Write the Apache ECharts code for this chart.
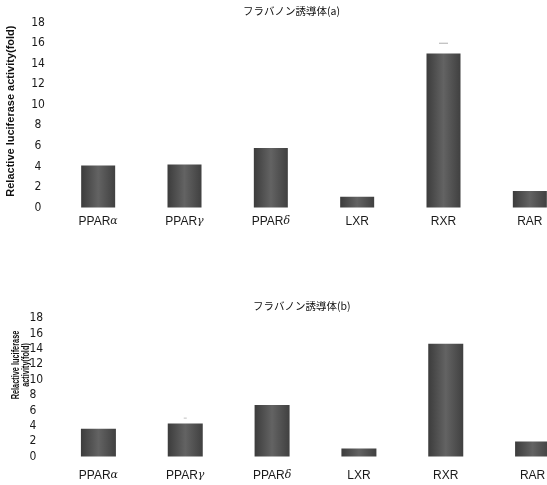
<!DOCTYPE html>
<html>
<head>
<meta charset="utf-8">
<script src="https://cdn.jsdelivr.net/npm/echarts@6/dist/echarts.min.js"></script>
<style>
  html, body { margin: 0; padding: 0; background: #fff; }
  #chart { width: 547px; height: 485px; }
</style>
</head>
<body>
<div id="chart"></div>
<script>
// Receptor categories (Greek suffix drawn in italic)
const receptors = ['PPARα', 'PPARγ', 'PPARδ', 'LXR', 'RXR', 'RAR'];

// Fold activation for each flavanone derivative
const valuesA = [4.1, 4.2, 5.8, 1.05, 15.0, 1.6];
const valuesB = [3.6, 4.3, 6.7, 1.05, 14.7, 1.95];

// Upper error-bar caps that remain visible
const capsA = [null, null, null, null, 16.0, null];
const capsB = [null, 5.0, null, null, null, null];

const yTicks = { min: 0, max: 18, interval: 2 };

const titleA = 'フラバノン誘導体(a)';
const titleB = 'フラバノン誘導体(b)';
const yNameA = 'Relactive luciferase activity(fold)';
const yNameB = 'Relactive luciferase\nactivity(fold)';

const numFont = "'Liberation Sans Narrow', 'DejaVu Sans Condensed', 'Liberation Sans', sans-serif";
const txtFont = "'Liberation Sans', Arial, sans-serif";
const cjkFont = "'Noto Sans CJK JP', 'Noto Sans CJK SC', sans-serif";

const barFill = {
  type: 'linear', x: 0, y: 0, x2: 1, y2: 0,
  colorStops: [
    { offset: 0, color: '#3c3c3c' },
    { offset: 0.5, color: '#636363' },
    { offset: 1, color: '#404040' }
  ]
};

function catLabel(margin) {
  return {
    margin: margin,
    interval: 0,
    color: '#1a1a1a',
    fontFamily: txtFont,
    fontSize: 12,
    formatter: function (v) {
      const m = v.match(/^(PPAR)(.)$/);
      return m ? '{n|' + m[1] + '}{g|' + m[2] + '}' : '{n|' + v + '}';
    },
    rich: {
      n: { fontFamily: txtFont, fontSize: 12, color: '#1a1a1a' },
      g: { fontFamily: "'DejaVu Serif', serif", fontStyle: 'italic', fontSize: 11, color: '#1a1a1a' }
    }
  };
}

const chart = echarts.init(document.getElementById('chart'), null, { renderer: 'canvas' });

chart.setOption({
  backgroundColor: '#ffffff',
  animation: false,
  title: [
    { text: titleA, left: 243, top: 6, padding: 0,
      textStyle: { fontFamily: cjkFont, fontSize: 10.5, fontWeight: 'normal', color: '#111' } },
    { text: titleB, left: 253, top: 301, padding: 0,
      textStyle: { fontFamily: cjkFont, fontSize: 10.5, fontWeight: 'normal', color: '#111' } }
  ],
  // The last category runs past the right edge of the canvas
  grid: [
    { left: 55, width: 518, top: 22.7, height: 184.8, outerBoundsMode: 'none', containLabel: false },
    { left: 55, width: 521, top: 318.3, height: 138.2, outerBoundsMode: 'none', containLabel: false }
  ],
  xAxis: [
    { type: 'category', gridIndex: 0, data: receptors,
      axisLine: { show: false }, axisTick: { show: false }, axisLabel: catLabel(8) },
    { type: 'category', gridIndex: 1, data: receptors,
      axisLine: { show: false }, axisTick: { show: false }, axisLabel: catLabel(13) }
  ],
  yAxis: [
    { type: 'value', gridIndex: 0, min: yTicks.min, max: yTicks.max, interval: yTicks.interval,
      splitLine: { show: false }, axisLine: { show: false }, axisTick: { show: false },
      axisLabel: { align: 'center', margin: 17, color: '#1a1a1a', fontFamily: numFont, fontSize: 12 },
      name: yNameA, nameLocation: 'middle', nameRotate: 90, nameGap: 39,
      nameTextStyle: { fontFamily: txtFont, fontSize: 11, fontWeight: 'bold', color: '#111',
                       padding: [0, 0, 0, 8] } },
    { type: 'value', gridIndex: 1, min: yTicks.min, max: yTicks.max, interval: yTicks.interval,
      splitLine: { show: false }, axisLine: { show: false }, axisTick: { show: false },
      axisLabel: { align: 'left', margin: 25.5, color: '#1a1a1a', fontFamily: numFont, fontSize: 12 } }
  ],
  // Condensed two-line axis title of the lower panel
  graphic: [
    { type: 'text', x: 21, y: 365, rotation: Math.PI / 2, scaleX: 0.7, silent: true,
      style: { text: yNameB, align: 'center', verticalAlign: 'middle', lineHeight: 9.5,
               font: "bold 10.5px 'Liberation Sans', Arial, sans-serif", fill: '#111' } }
  ],
  series: [
    { type: 'bar', xAxisIndex: 0, yAxisIndex: 0, data: valuesA, barWidth: 34,
      itemStyle: { color: barFill } },
    { type: 'bar', xAxisIndex: 1, yAxisIndex: 1, data: valuesB, barWidth: 35,
      itemStyle: { color: barFill } },
    { type: 'scatter', xAxisIndex: 0, yAxisIndex: 0, data: capsA,
      symbol: 'rect', symbolSize: [9, 1], itemStyle: { color: '#9a9a9a' }, silent: true },
    { type: 'scatter', xAxisIndex: 1, yAxisIndex: 1, data: capsB,
      symbol: 'rect', symbolSize: [3, 1], itemStyle: { color: '#b0b0b0' }, silent: true }
  ]
});
</script>
</body>
</html>
